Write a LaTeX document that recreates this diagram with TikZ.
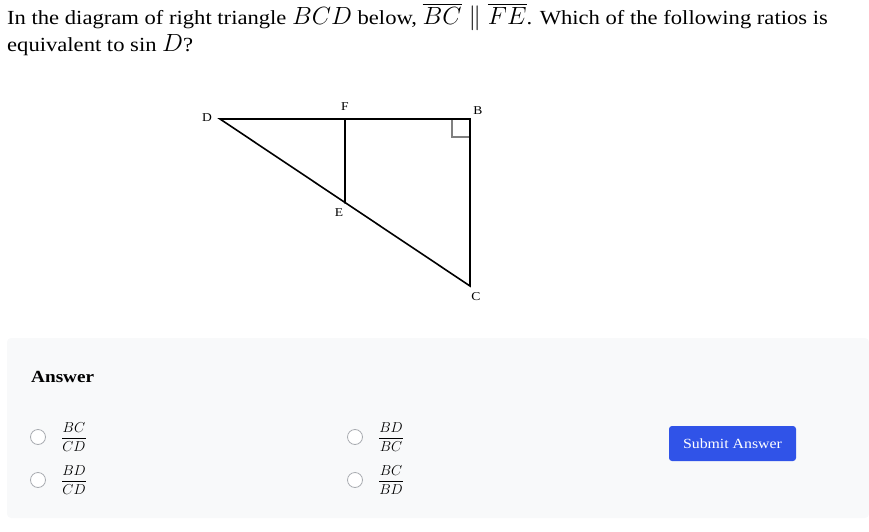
\documentclass[tikz,border=0pt]{standalone}
\usepackage{amsmath,amssymb}
\usepackage{fontspec}
\setmainfont{Liberation Serif}[FakeStretch=1.13]
\usetikzlibrary{positioning}
\definecolor{panelgray}{HTML}{F8F9FA}
\definecolor{btnblue}{HTML}{3053E8}
\definecolor{radiogray}{HTML}{A9ACB1}
\definecolor{markgray}{HTML}{808080}
\newcommand{\qm}[1]{{\fontsize{23.5}{24}\selectfont$#1$}}

\begin{document}
\begin{tikzpicture}[x=1pt,y=-1pt,
  qtext/.style={anchor=base west,inner sep=0pt,font=\fontsize{20}{24}\selectfont},
  vlabel/.style={inner sep=0pt,font=\fontsize{12}{14}\selectfont},
  radio/.style={circle,draw=radiogray,fill=white,minimum size=15pt,inner sep=0pt,line width=0.8pt},
  choice/.style={anchor=west,inner sep=0pt,font=\fontsize{15}{17}\selectfont},
  side/.style={line width=1.6pt,line cap=round}]
\useasboundingbox (0,0) rectangle (869,532);

% question
\node[qtext] (q1) at (7,25) {In the diagram of right triangle \qm{BCD} below, \qm{\overline{BC}\parallel\overline{FE}}. Which of the following ratios is};
\node[qtext] (q2) at (7,52) {equivalent to sin \qm{D}?};

% triangle
\coordinate (D) at (220,119);
\coordinate (F) at (345,119);
\coordinate (B) at (470,119);
\coordinate (E) at (345,203);
\coordinate (C) at (470,286);
\draw[markgray,line width=1.1pt] (452,119) |- (470,137);
\draw[side] (D) -- (B) -- (C) -- cycle;
\draw[side] (F) -- (E);
\node[vlabel] (lD) at (207,118) {D};
\node[vlabel] (lF) at (345,107) {F};
\node[vlabel] (lB) at (478,111) {B};
\node[vlabel] (lE) at (339,213) {E};
\node[vlabel] (lC) at (476,297) {C};

% answer panel
\fill[panelgray,rounded corners=4pt] (7,338) rectangle (869,518);
\node[anchor=base west,inner sep=0pt,font=\fontsize{17}{19}\selectfont\bfseries] (ans) at (31,382) {Answer};

\node[radio] (r1) at (38,437) {};
\node[radio] (r2) at (38,480) {};
\node[radio] (r3) at (355,437) {};
\node[radio] (r4) at (355,480) {};
\node[choice,right=15pt of r1] (c1) {$\dfrac{BC}{CD}$};
\node[choice,right=15pt of r2] (c2) {$\dfrac{BD}{CD}$};
\node[choice,right=15pt of r3] (c3) {$\dfrac{BD}{BC}$};
\node[choice,right=15pt of r4] (c4) {$\dfrac{BC}{BD}$};

% button
\fill[btnblue,rounded corners=3pt] (669,426) rectangle (796,461);
\node[text=white,font=\fontsize{14}{16}\selectfont] (submit) at (732.5,443.5) {Submit Answer};
\end{tikzpicture}
\end{document}
